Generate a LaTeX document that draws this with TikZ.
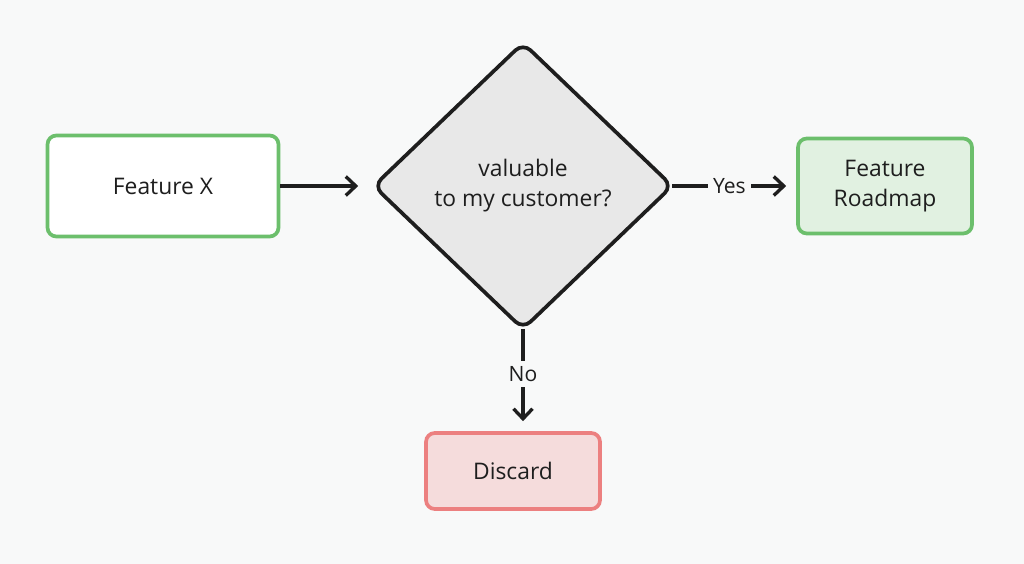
\documentclass[tikz,border=0pt]{standalone}
\usepackage{fontspec}
\setmainfont{Open Sans}
\usetikzlibrary{shapes.geometric,arrows.meta}

\definecolor{bgcol}{HTML}{F8F9F9}
\definecolor{inkcol}{HTML}{1E1E1E}
\definecolor{greenline}{HTML}{6CBF6C}
\definecolor{greenfill}{HTML}{E1F1E1}
\definecolor{redline}{HTML}{EC8080}
\definecolor{redfill}{HTML}{F5DCDC}
\definecolor{greyfill}{HTML}{E8E8E8}

\tikzstyle{box} = [rectangle, rounded corners=5pt, line width=2.1pt, align=center, font=\fontsize{13}{17}\selectfont, text=inkcol]
\tikzstyle{decision} = [diamond, rounded corners=6pt, line width=2.1pt, draw=inkcol, fill=greyfill, align=center, inner sep=2pt, minimum width=6cm, minimum height=5.75cm, font=\fontsize{13}{17}\selectfont, text=inkcol]
\tikzstyle{arrow} = [draw=inkcol, line width=1.9pt, -{Straight Barb[length=2mm,width=3.8mm]}]
\tikzstyle{answer} = [fill=bgcol, inner sep=3pt, font=\fontsize{12}{14}\selectfont, text=inkcol]

\begin{document}
\begin{tikzpicture}[x=0.02cm, y=-0.02cm]
	\fill[bgcol] (0,0) rectangle (1024,564);
	\useasboundingbox (0,0) rectangle (1024,564);

	\node[box, draw=greenline, fill=white, minimum width=4.62cm, minimum height=2.02cm] (fx) at (163,186) {Feature X};
	\node[decision] (dec) at (523,186) {valuable\\to my customer?};
	\node[box, draw=greenline, fill=greenfill, minimum width=3.48cm, minimum height=1.9cm] (roadmap) at (885,186) {Feature\\Roadmap};
	\node[box, draw=redline, fill=redfill, minimum width=3.48cm, minimum height=1.52cm] (discard) at (513,471) {Discard};

	\draw[arrow, shorten >=0.26cm] (fx.east) -- (dec.west);
	\draw[arrow, shorten <=-1.5pt, shorten >=0.2cm] (dec.east) -- node[answer, pos=0.45] {Yes} (roadmap.west);
	\draw[arrow, shorten <=-1.5pt, shorten >=0.2cm] (dec.south) -- node[answer, pos=0.43] {No} (dec.south |- discard.north);
\end{tikzpicture}
\end{document}
